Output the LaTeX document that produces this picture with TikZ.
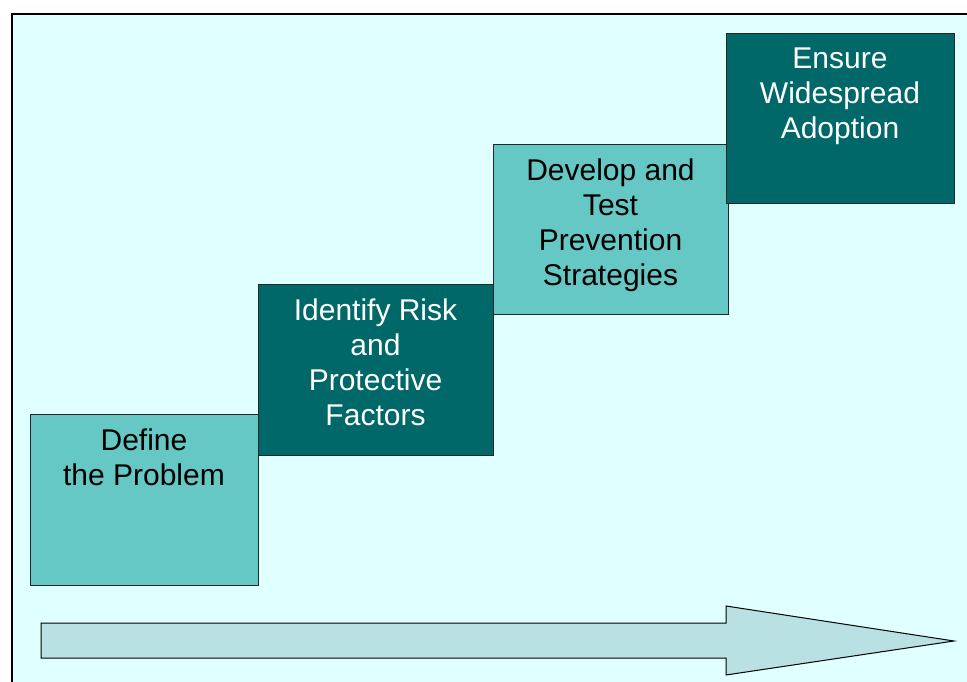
\documentclass[tikz,border=0pt]{standalone}
\usepackage{fontspec}
\setmainfont{Liberation Sans}
\usetikzlibrary{positioning}

\definecolor{pagecyan}{HTML}{E0FFFF}
\definecolor{lightteal}{HTML}{66C8C4}
\definecolor{darkteal}{HTML}{006868}
\definecolor{arrowblue}{HTML}{B9E0E2}

\tikzset{
	stepbox/.style={draw=black!85, line width=1pt, minimum height=170pt, inner sep=0pt},
	lightstep/.style={stepbox, fill=lightteal},
	darkstep/.style={stepbox, fill=darkteal},
	steptext/.style={inner sep=0pt, align=center, font=\fontsize{30}{35}\selectfont},
}

\begin{document}
\begin{tikzpicture}[x=1pt,y=1pt]

	\useasboundingbox (0,0) rectangle (967,681);
	\clip (0,0) rectangle (967,681);
	\fill[white] (0,0) rectangle (967,681);
	\draw[line width=1.5pt, fill=pagecyan] (12,667) rectangle (980,-10);

	% the four steps
	\node[lightstep, minimum width=228pt] (define) at (144,181) {};
	\node[steptext, below=14pt of define.north] (definetext) {Define\\the Problem};
	\node[darkstep, minimum width=235pt] (identify) at (375.5,311) {};
	\node[steptext, text=white, below=14pt of identify.north] (identifytext) {Identify Risk\\and\\Protective\\Factors};
	\node[lightstep, minimum width=235pt] (develop) at (610.5,451) {};
	\node[steptext, below=14pt of develop.north] (developtext) {Develop and\\Test\\Prevention\\Strategies};
	\node[darkstep, minimum width=228pt] (ensure) at (840,562) {};
	\node[steptext, text=white, below=14pt of ensure.north] (ensuretext) {Ensure\\Widespread\\Adoption};

	% arrow
	\coordinate (tailtop) at (41,58);
	\coordinate (tailbot) at (41,23);
	\coordinate (tip) at (954,40);
	\draw[line width=1pt, fill=arrowblue] (tailtop) -- (726,58) -- (726,75) -- (tip)
		-- (726,6) -- (726,23) -- (tailbot) -- cycle;

\end{tikzpicture}
\end{document}
